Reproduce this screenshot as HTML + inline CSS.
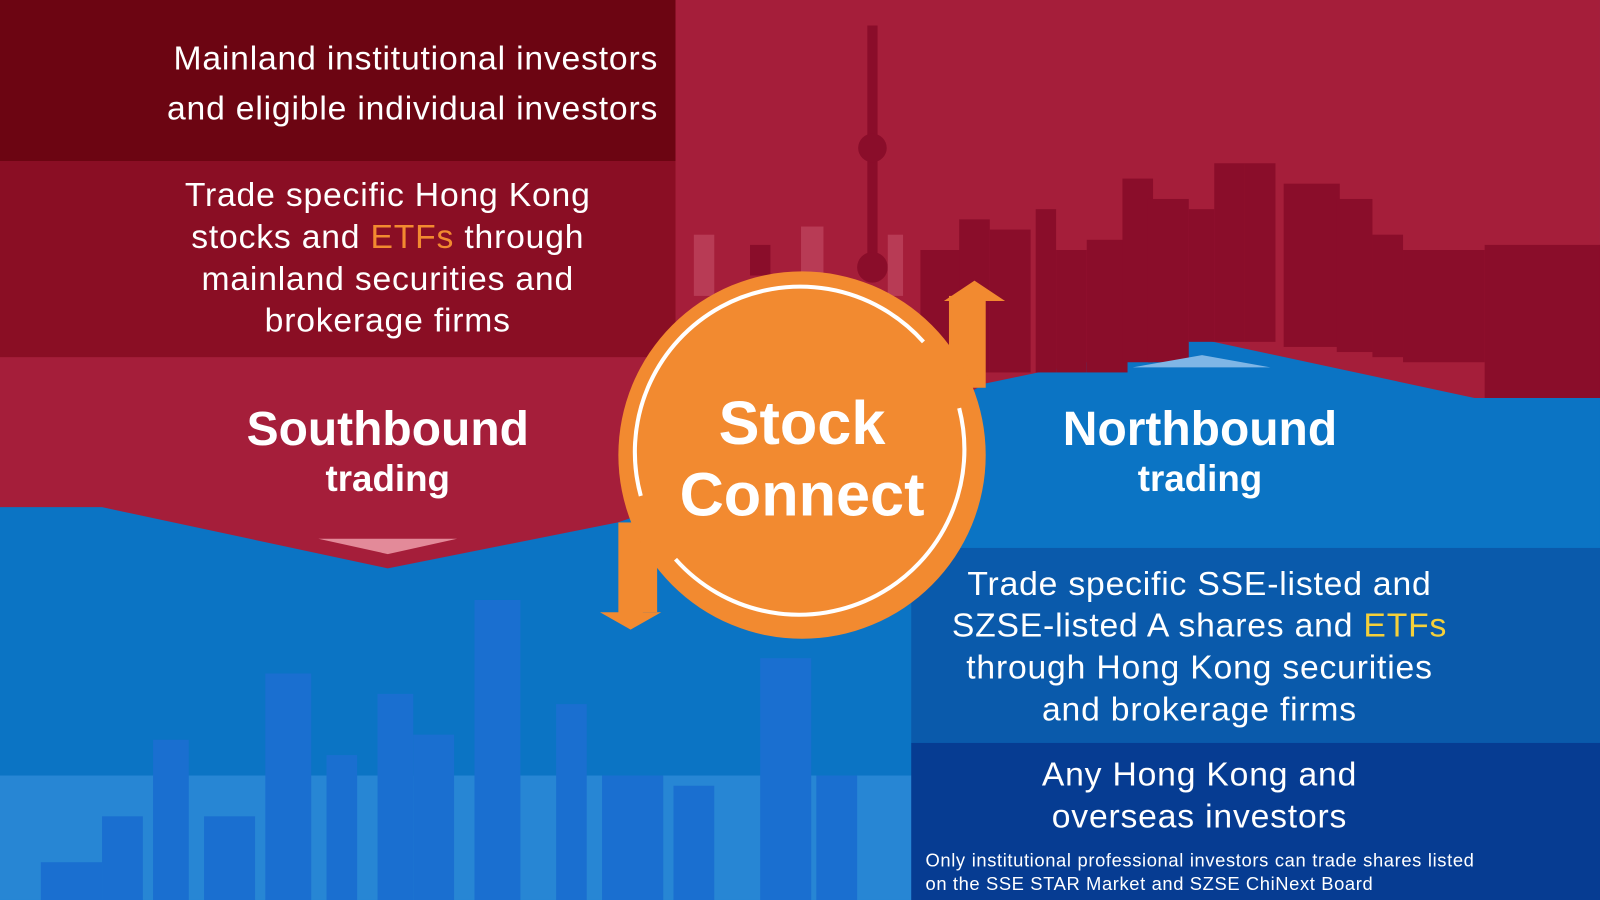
<!DOCTYPE html>
<html><head><meta charset="utf-8"><style>
html,body{margin:0;padding:0;width:1600px;height:900px;overflow:hidden;background:#0b74c4}
#wrap{position:absolute;left:0;top:0;width:1568px;height:882px;transform:scale(1.0204);transform-origin:0 0;font-family:"Liberation Sans",sans-serif;color:#fff}
.t{position:absolute;text-align:center}
.ls{letter-spacing:0.8px}
</style></head><body>
<div id="wrap">
<svg width="1568" height="882" style="position:absolute;left:0;top:0">
 <rect x="0" y="0" width="1568" height="882" fill="#0b74c4"/>
 <polygon points="0,0 1568,0 1568,390 1445,390 1175,332 965,376 890,420 605,512 380,557 100,497 0,497" fill="#a51e3a"/>
 <g fill="#8a0d2a">
  <rect x="902" y="245" width="40" height="120"/><rect x="940" y="215" width="30" height="150"/>
  <rect x="970" y="225" width="40" height="140"/><rect x="1015" y="205" width="20" height="160"/>
  <rect x="1035" y="245" width="30" height="120"/><rect x="1065" y="235" width="40" height="130"/>
  <rect x="1100" y="175" width="30" height="180"/><rect x="1125" y="195" width="40" height="160"/>
  <rect x="1165" y="205" width="25" height="130"/><rect x="1190" y="160" width="30" height="175"/>
  <rect x="1220" y="160" width="30" height="175"/><rect x="1258" y="180" width="55" height="160"/>
  <rect x="1310" y="195" width="35" height="150"/><rect x="1345" y="230" width="30" height="120"/>
  <rect x="1375" y="245" width="80" height="110"/><rect x="1455" y="240" width="113" height="150"/>
  <rect x="850" y="25" width="10" height="250"/><circle cx="855" cy="145" r="14"/><circle cx="855" cy="262" r="15"/>
  <rect x="735" y="240" width="20" height="30"/>
 </g>
 <g fill="#b83b55">
  <rect x="680" y="230" width="20" height="60"/><rect x="785" y="222" width="22" height="60"/><rect x="870" y="230" width="15" height="60"/>
 </g>
 <rect x="0" y="0" width="662" height="158" fill="#6c0512"/>
 <rect x="0" y="158" width="662" height="192" fill="#8a0e24"/>
 <polygon points="312,528 448,528 380,543" fill="#e38a99"/>
 <polygon points="1110,360 1245,360 1178,348" fill="#7fb6e6"/>
 <g fill="#1a6fd0">
  <rect x="0" y="760" width="900" height="122" fill="#2786d4"/>
  <rect x="465" y="588" width="45" height="294"/><rect x="745" y="645" width="50" height="237"/>
  <rect x="260" y="660" width="45" height="222"/><rect x="370" y="680" width="35" height="202"/>
  <rect x="150" y="725" width="35" height="157"/><rect x="545" y="690" width="30" height="192"/>
  <rect x="405" y="720" width="40" height="162"/><rect x="320" y="740" width="30" height="142"/>
  <rect x="100" y="800" width="40" height="82"/><rect x="590" y="760" width="60" height="122"/>
  <rect x="660" y="770" width="40" height="112"/><rect x="800" y="760" width="40" height="122"/>
  <rect x="40" y="845" width="60" height="37"/><rect x="200" y="800" width="50" height="82"/>
 </g>
 <rect x="893" y="537" width="675" height="191" fill="#0a5aab"/>
 <rect x="893" y="728" width="675" height="154" fill="#063c92"/>
 <g>
  <rect x="942" y="290" width="24" height="90" fill="#f28a30"/>
  <polygon points="925,295 955,275 985,295" fill="#f28a30"/>
  <rect x="606" y="512" width="24" height="90" fill="#f28a30"/>
  <polygon points="588,600 618,617 648,600" fill="#f28a30"/>
  <circle cx="786" cy="446" r="180" fill="#f28a30"/>
  <path d="M 905 335 A 162 162 0 0 0 628 486" stroke="#fff" stroke-width="4" fill="none"/>
  <path d="M 662 548 A 162 162 0 0 0 940 400" stroke="#fff" stroke-width="4" fill="none"/>
  <rect x="930" y="290" width="14" height="95" fill="#f28a30"/>
  <rect x="628" y="505" width="16" height="95" fill="#f28a30"/>
 </g>
</svg>
<div class="t ls" style="left:85px;top:32px;width:560px;font-size:33px;line-height:49px;text-align:right">Mainland institutional investors<br>and eligible individual investors</div>
<div class="t ls" style="left:80px;top:170px;width:600px;font-size:33px;line-height:41px">Trade specific Hong Kong<br>stocks and <span style="color:#f28a30">ETFs</span> through<br>mainland securities and<br>brokerage firms</div>
<div class="t" style="left:180px;top:393px;width:400px;font-size:47px;font-weight:bold;line-height:54px">Southbound</div>
<div class="t" style="left:180px;top:448px;width:400px;font-size:36px;font-weight:bold">trading</div>
<div class="t" style="left:636px;top:380px;width:300px;font-size:60px;font-weight:bold;line-height:70px">Stock<br>Connect</div>
<div class="t" style="left:976px;top:393px;width:400px;font-size:47px;font-weight:bold;line-height:54px">Northbound</div>
<div class="t" style="left:976px;top:448px;width:400px;font-size:36px;font-weight:bold">trading</div>
<div class="t ls" style="left:883px;top:551px;width:585px;font-size:33px;line-height:41px">Trade specific SSE-listed and<br>SZSE-listed A shares and <span style="color:#f5d03a">ETFs</span><br>through Hong Kong securities<br>and brokerage firms</div>
<div class="t ls" style="left:893px;top:738px;width:565px;font-size:33px;line-height:41px">Any Hong Kong and<br>overseas investors</div>
<div class="t" style="left:907px;top:832px;width:538px;font-size:18px;line-height:23px;letter-spacing:0.6px;text-align:justify;text-align-last:left">Only institutional professional investors can trade shares listed on the SSE STAR Market and SZSE ChiNext Board</div>
</div>
</body></html>
